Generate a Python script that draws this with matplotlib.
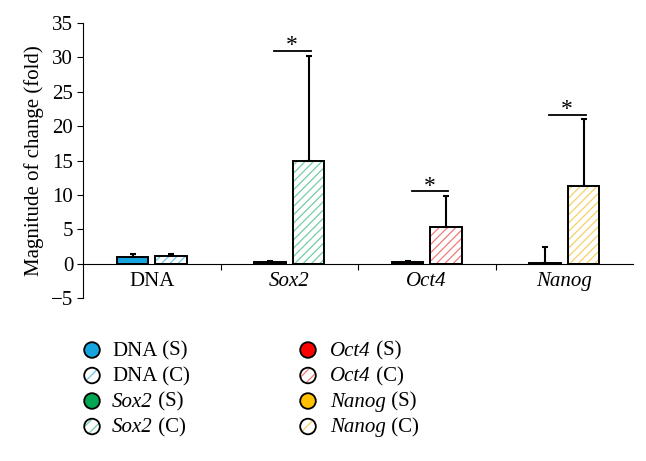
import matplotlib
matplotlib.use("Agg")
import matplotlib.pyplot as plt
from matplotlib.patches import Circle
import numpy as np

plt.rcParams['font.family'] = ['Liberation Serif', 'DejaVu Serif']
plt.rcParams['hatch.linewidth'] = 0.9

categories = ['DNA', 'Sox2', 'Oct4', 'Nanog']
italic_category = [False, True, True, True]
s_values = [1.0, 0.2, 0.2, 0.02]
s_err = [0.4, 0.2, 0.15, 2.4]
c_values = [1.1, 15.0, 5.3, 11.3]
c_err = [0.25, 15.2, 4.6, 9.7]
sig_heights = [None, 30.9, 10.5, 21.6]
solid_colors = ['#16A4DE', '#00A651', '#FF0000', '#FFC000']
hatch_colors = ['#6CC6EC', '#72CFA4', '#F07C7C', '#F5D06A']
suffix_s = ' (S)'
suffix_c = ' (C)'

W, H = 646, 461
fig = plt.figure(figsize=(W / 100, H / 100), dpi=100)
ax = fig.add_axes([83 / W, 1 - 298 / H, 550 / W, 275 / H])

x = np.arange(len(categories))
off = 0.14
w = 0.23
ax.bar(x - off, s_values, w, color=solid_colors, edgecolor='black', linewidth=1.4, zorder=2)
for i in range(len(x)):
    ax.bar(x[i] + off, c_values[i], w, color='white', edgecolor=hatch_colors[i],
           hatch='////', linewidth=0, zorder=2)
ax.bar(x + off, c_values, w, fill=False, edgecolor='black', linewidth=1.4, zorder=3)

ax.errorbar(x - off, s_values, yerr=[np.zeros(len(x)), s_err], fmt='none',
            ecolor='black', elinewidth=1.5, capsize=2.5, capthick=1.5, zorder=4)
ax.errorbar(x + off, c_values, yerr=[np.zeros(len(x)), c_err], fmt='none',
            ecolor='black', elinewidth=1.5, capsize=2.5, capthick=1.5, zorder=4)

for i, h in enumerate(sig_heights):
    if h is None:
        continue
    ax.plot([x[i] - 0.11, x[i] + 0.155], [h, h], color='black', lw=1.3, zorder=4)
    ax.annotate('*', xy=(x[i] + 0.02, h), xytext=(0, -3.8), textcoords='offset points',
                ha='center', va='bottom', fontsize=17)

ax.set_xlim(-0.5, 3.5)
ax.set_ylim(-5, 35)
ax.set_yticks(np.arange(-5, 36, 5))
ax.set_yticklabels([str(v) if v >= 0 else '\u22125' for v in range(-5, 36, 5)])
ax.spines['top'].set_visible(False)
ax.spines['right'].set_visible(False)
ax.spines['bottom'].set_position(('data', 0))
ax.tick_params(axis='y', direction='out', length=4, labelsize=15, pad=3)
ax.set_xticks([0.5, 1.5, 2.5])
ax.set_xticklabels([])
ax.set_xticks(x, minor=True)
ax.set_xticklabels(categories, minor=True)
for lab, it in zip(ax.get_xticklabels(minor=True), italic_category):
    if it:
        lab.set_style('italic')
ax.tick_params(axis='x', which='major', direction='out', length=4)
ax.tick_params(axis='x', which='minor', length=0, labelsize=15, pad=6)
ax.set_ylabel('Magnitude of change (fold)', fontsize=15, labelpad=5)

# ---- legend (two columns, circle markers, mixed italic labels) ----
renderer = fig.canvas.get_renderer()
col_circle_x = [92, 308]
col_text_x = [112, 330]
row_y = [350, 375.5, 401, 426.5]
r_px = 7.8
fs = 15
entries = []
for i in range(4):
    entries.append((categories[i], italic_category[i], suffix_s, solid_colors[i], False))
    entries.append((categories[i], italic_category[i], suffix_c, hatch_colors[i], True))

for k, (name, it, suf, col, hatched) in enumerate(entries):
    c = k // 4
    rr = k % 4
    cx, cy = col_circle_x[c], row_y[rr]
    centre = (cx / 100, (H - cy) / 100)
    if hatched:
        fig.add_artist(Circle(centre, r_px / 100, transform=fig.dpi_scale_trans,
                              facecolor='white', edgecolor=col, hatch='///', linewidth=0))
        fig.add_artist(Circle(centre, r_px / 100, transform=fig.dpi_scale_trans,
                              fill=False, edgecolor='black', linewidth=1.3))
    else:
        fig.add_artist(Circle(centre, r_px / 100, transform=fig.dpi_scale_trans,
                              facecolor=col, edgecolor='black', linewidth=1.3))
    base_y = 1 - (cy + 5.5) / H
    t1 = fig.text(col_text_x[c] / W, base_y, name, fontsize=fs, va='baseline', ha='left',
                  style='italic' if it else 'normal')
    x1 = t1.get_window_extent(renderer).x1
    fig.text(x1 / W, base_y, suf, fontsize=fs, va='baseline', ha='left')

fig.savefig('out.png', dpi=100)
